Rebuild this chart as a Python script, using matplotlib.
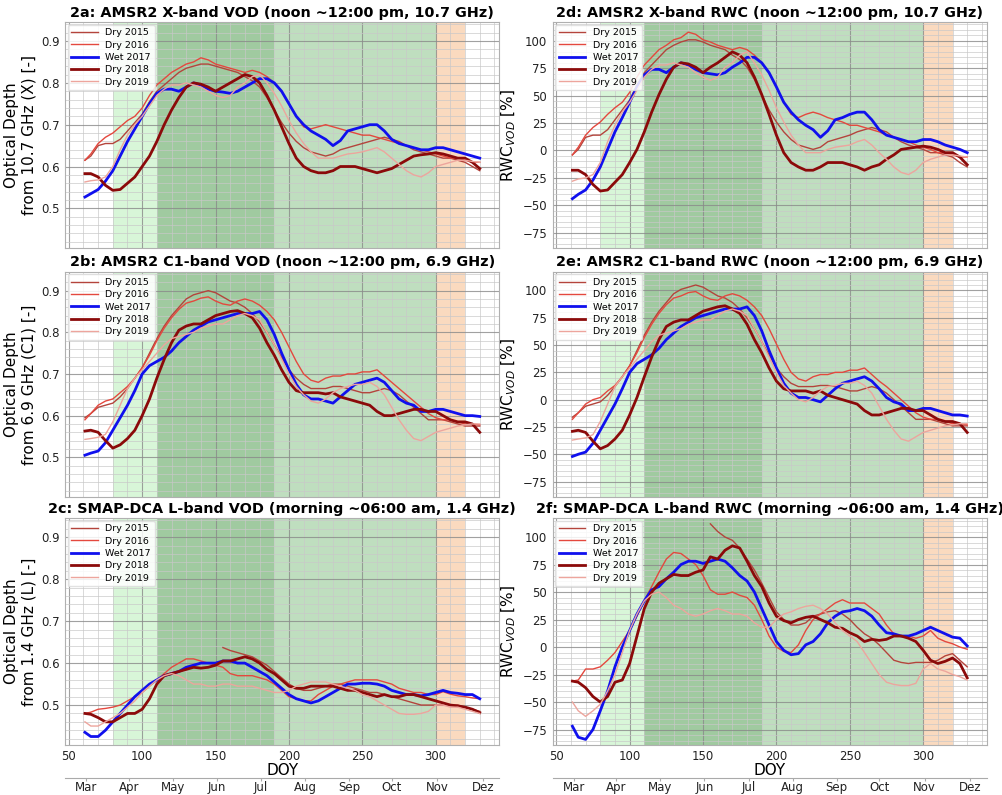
import numpy as np
import matplotlib
matplotlib.use("Agg")
import matplotlib.pyplot as plt
from matplotlib.ticker import MultipleLocator, AutoMinorLocator

nan = np.nan
doy = [61] + list(range(65, 331, 5))

years = ["Dry 2015", "Dry 2016", "Wet 2017", "Dry 2018", "Dry 2019"]
colors = ["#b4443c", "#e4483e", "#1010ee", "#8b0a0a", "#eda59d"]
widths = [1.0, 1.0, 2.0, 2.0, 1.0]

# ---- 2a: AMSR2 X-band VOD
vod_x_2015 = [.615,.625,.65,.655,.655,.665,.685,.705,.725, .755,.78,.795,.81,.825,.835,.84,.845,.845,.84,
              .835,.83,.825,.815,.805,.79,.765,.735,.705,.68, .66,.645,.635,.63,.625,.63,.64,.645,.65,.655,
              .66,.665,.67,.665,.66,.65,.64,.635,.63,.625, .62,.62,.615,.61,.60,.59]
vod_x_2016 = [.615,.63,.655,.67,.68,.695,.71,.72,.74, .77,.795,.81,.825,.835,.845,.85,.86,.855,.845,
              .84,.835,.83,.825,.83,.825,.815,.80,.78,.75, .72,.695,.69,.695,.70,.695,.69,.685,.68,.675,
              .675,.67,.665,.66,.655,.65,.645,.64,.635,.63, .625,.62,.62,.615,.61,.61]
vod_x_2017 = [.527,.535,.545,.565,.59,.625,.66,.69,.72, .75,.775,.785,.785,.78,.79,.80,.795,.785,.78,
              .778,.775,.78,.79,.80,.81,.81,.80,.78,.75, .72,.70,.685,.675,.665,.65,.662,.685,.69,.695,
              .70,.70,.685,.665,.655,.65,.645,.64,.64,.645, .645,.64,.635,.63,.625,.62]
vod_x_2018 = [.583,.583,.575,.555,.543,.545,.56,.575,.60, .625,.66,.70,.735,.765,.79,.80,.797,.79,.78,
              .79,.80,.81,.82,.815,.80,.77,.735,.695,.655, .62,.60,.59,.585,.585,.59,.60,.60,.60,.595,
              .59,.585,.59,.595,.605,.615,.625,.628,.63,.633, .63,.625,.62,.62,.61,.595]
vod_x_2019 = [.563,.566,.568,.575,.60,.64,.675,.70,.72, .745,.77,.785,.795,.795,.80,.795,.79,.78,.77,
              .765,.77,.79,.80,.815,.82,.80,.775,.745,.71, .68,.655,.635,.62,.62,.62,.625,.63,.632,.635,
              .64,.645,.635,.62,.605,.59,.58,.575,.585,.60, .605,.61,.615,.615,.612,.61]

# ---- 2b: AMSR2 C1-band VOD
vod_c_2015 = [.595,.605,.62,.625,.63,.645,.665,.69,.715, .75,.785,.815,.84,.86,.88,.89,.895,.90,.895,
              .885,.875,.87,.86,.845,.825,.80,.77,.74,.71, .69,.675,.665,.665,.665,.67,.67,.665,.66,.655,
              .655,.66,.665,.66,.65,.635,.62,.605,.59,.59, .59,.585,.58,.575,.575,.575]
vod_c_2016 = [.59,.605,.625,.635,.64,.655,.67,.69,.715, .745,.78,.81,.835,.855,.87,.875,.882,.885,.875,
              .868,.865,.875,.88,.875,.865,.85,.83,.80,.765, .73,.70,.685,.68,.69,.695,.695,.70,.70,.705,
              .705,.71,.695,.68,.665,.65,.635,.62,.605,.595, .59,.59,.585,.58,.58,.578]
vod_c_2017 = [.505,.51,.515,.535,.565,.595,.625,.66,.70, .72,.73,.74,.755,.775,.79,.805,.815,.825,.83,
              .835,.84,.845,.845,.845,.85,.83,.795,.75,.71, .675,.65,.64,.64,.635,.63,.645,.66,.675,.68,
              .685,.69,.68,.66,.64,.63,.625,.61,.61,.615, .615,.61,.605,.60,.60,.598]
vod_c_2018 = [.563,.565,.56,.54,.522,.53,.545,.565,.60, .64,.69,.735,.775,.805,.815,.82,.82,.83,.84,
              .845,.85,.852,.845,.835,.81,.775,.745,.71,.68, .66,.655,.655,.655,.652,.655,.645,.64,.635,.63,
              .625,.61,.60,.60,.605,.61,.615,.615,.61,.61, .60,.59,.585,.585,.58,.56]
vod_c_2019 = [.543,.545,.548,.555,.585,.625,.665,.69,.71, .73,.75,.77,.785,.79,.795,.80,.81,.815,.82,
              .82,.83,.84,.845,.84,.83,.80,.77,.735,.70, .67,.65,.635,.63,.64,.655,.665,.67,.675,.675,
              .68,.67,.65,.62,.59,.565,.545,.54,.55,.56, .565,.57,.575,.578,.58,.58]

# ---- 2c: SMAP-DCA L-band VOD
vod_l_2015 = [nan]*19 + [.637,.63,.625,.62,.615,.605,.595,.58,.565,.55, .54,.535,.535,.54,.545,.55,.55,.545,.54,.535,
              .53,.53,.525,.52,.515,.51,.505,.50,.50,.50, .50,.50,.50,.495,.49,.485]
vod_l_2016 = [.48,.483,.49,.492,.495,.50,.51,.52,.53, .545,.56,.575,.59,.60,.61,.61,.605,.60,.595,
              .59,.575,.57,.57,.57,.565,.56,.55,.535,.52, .515,.51,.51,.525,.535,.545,.55,.555,.56,.56,
              .56,.56,.555,.55,.54,.535,.53,.53,.525,.525, .532,.526,.522,.52,.517,.515]
vod_l_2017 = [.435,.425,.425,.44,.46,.48,.50,.52,.535, .55,.56,.57,.575,.58,.59,.595,.60,.60,.60,
              .605,.605,.60,.60,.59,.58,.57,.555,.54,.525, .515,.51,.505,.51,.52,.53,.54,.55,.55,.552,
              .552,.55,.545,.535,.53,.525,.525,.522,.525,.53, .535,.53,.528,.525,.525,.515]
vod_l_2018 = [.48,.478,.47,.46,.46,.47,.48,.48,.49, .515,.55,.57,.575,.58,.585,.59,.588,.59,.595,
              .605,.605,.61,.615,.61,.60,.585,.575,.56,.545, .54,.54,.545,.545,.545,.545,.54,.535,.535,.53,
              .525,.52,.525,.52,.52,.525,.525,.52,.515,.51, .505,.50,.498,.495,.49,.482]
vod_l_2019 = [.46,.45,.45,.46,.47,.48,.495,.51,.53, .545,.56,.57,.575,.57,.56,.55,.55,.545,.545,
              .55,.55,.545,.545,.545,.54,.535,.53,.53,.535, .545,.55,.555,.555,.555,.55,.545,.54,.535,.525,
              .52,.51,.50,.49,.48,.478,.478,.48,.485,.50, .50,.495,.495,.49,.485,.48]

# ---- 2d: AMSR2 X-band RWC
rwc_x_2015 = [-4,1,12,14,14,19,28,37,46, 60,71,78,85,92,96,99,101,101,99, 96,94,92,87,83,76,65,51,37,26,
              17,10,5,3,1,3,8,10,12,14, 17,19,21,19,17,12,8,5,3,1, -2,-2,-4,-6,-11,-15]
rwc_x_2016 = [-4,3,14,21,26,33,39,44,53, 67,78,85,92,96,101,103,108,106,101, 99,96,94,92,94,92,87,80,71,58,
              44,33,30,33,35,33,30,28,26,23, 23,21,19,17,14,12,10,8,5,3, 1,-2,-2,-4,-6,-6]
rwc_x_2017 = [-44,-40,-36,-27,-15,1,17,30,44, 58,69,74,74,71,76,80,78,74,71, 70,69,71,76,80,85,85,80,71,58,
              44,35,28,23,19,12,18,28,30,33, 35,35,28,19,14,12,10,8,8,10, 10,8,5,3,1,-2]
rwc_x_2018 = [-18,-18,-22,-31,-37,-36,-29,-22,-11, 1,17,35,51,65,76,80,79,76,71, 76,80,85,90,87,80,67,51,33,14,
              -2,-11,-15,-18,-18,-15,-11,-11,-11,-13, -15,-18,-15,-13,-8,-4,1,2,3,4, 3,1,-2,-2,-6,-13]
rwc_x_2019 = [-28,-26,-25,-22,-11,8,23,35,44, 55,67,74,78,78,80,78,76,71,67, 64,67,76,80,87,90,80,69,55,39,
              26,14,5,-2,-2,-2,1,3,4,5, 8,10,5,-2,-8,-15,-20,-22,-18,-11, -8,-6,-4,-4,-5,-6]

# ---- 2e: AMSR2 C1-band RWC
rwc_c_2015 = [-16,-12,-6,-4,-2,4,12,21,31, 45,59,71,81,89,97,101,103,105,103, 99,95,93,89,83,75,65,53,41,29,
              21,15,12,12,12,13,13,12,10,8, 8,10,12,10,6,0,-6,-12,-18,-18, -18,-20,-22,-24,-24,-24]
rwc_c_2016 = [-18,-12,-4,0,2,8,13,21,31, 43,57,69,79,87,93,95,98,99,95, 92,91,95,97,95,91,85,77,65,51,
              37,25,19,17,21,23,23,25,25,27, 27,29,23,17,12,6,0,-6,-12,-16, -18,-18,-20,-22,-22,-23]
rwc_c_2017 = [-52,-50,-48,-40,-28,-16,-4,10,25, 33,37,41,47,55,61,67,71,75,77, 79,81,83,83,83,85,77,63,45,29,
              15,6,2,2,0,-2,4,10,15,17, 19,21,17,10,2,-2,-4,-10,-10,-8, -8,-10,-12,-14,-14,-15]
rwc_c_2018 = [-29,-28,-30,-38,-45,-42,-36,-28,-14, 2,21,39,55,67,71,73,73,77,81, 83,85,86,83,79,69,55,43,29,17,
              10,8,8,8,6,8,4,2,0,-2, -4,-10,-14,-14,-12,-10,-8,-8,-10,-10, -14,-18,-20,-20,-22,-30]
rwc_c_2019 = [-37,-36,-35,-32,-20,-4,12,21,29, 37,45,53,59,61,63,65,69,71,73, 73,77,81,83,81,77,65,53,39,25,
              13,6,0,-2,2,8,12,13,15,15, 17,13,6,-6,-18,-28,-36,-38,-34,-30, -28,-26,-24,-23,-22,-22]

# ---- 2f: SMAP-DCA L-band RWC
rwc_l_2015 = [nan]*19 + [112,105,100,97,90,80,70,58,45,32, 25,20,20,22,28,30,32,33,30,25,
              18,12,8,2,-5,-12,-14,-15,-14,-14, -14,-12,-8,-6,-12,-18]
rwc_l_2016 = [-31,-30,-20,-20,-18,-12,-5,5,15, 28,42,55,68,80,86,85,80,75,65, 52,48,48,50,47,45,38,25,10,0,
              -4,-5,2,15,25,30,35,40,43,40, 40,40,35,30,20,12,10,10,8,10, 15,8,5,3,0,-2]
rwc_l_2017 = [-72,-82,-84,-75,-58,-40,-18,0,15, 30,42,52,55,62,68,75,78,78,76, 78,80,78,72,65,60,50,35,20,5,
              -3,-7,-6,2,5,12,22,28,32,33, 35,33,28,20,13,12,10,10,12,15, 18,15,12,9,8,1]
rwc_l_2018 = [-31,-32,-37,-45,-50,-45,-32,-30,-15, 10,35,50,58,62,66,65,65,68,70, 82,80,88,92,90,78,65,55,40,28,
              24,22,25,27,28,25,22,18,17,13, 10,5,7,6,7,10,10,8,5,-3, -12,-15,-13,-10,-15,-28]
rwc_l_2019 = [-50,-58,-63,-58,-52,-40,-25,-5,15, 30,42,48,50,45,38,35,30,28,30, 33,35,33,30,30,28,22,18,18,25,
              30,32,35,37,38,35,30,22,15,10, 5,-5,-15,-25,-32,-34,-35,-35,-33,-20, -15,-20,-22,-25,-27,-30]

titles = ["2a: AMSR2 X-band VOD (noon ~12:00 pm, 10.7 GHz)",
          "2b: AMSR2 C1-band VOD (noon ~12:00 pm, 6.9 GHz)",
          "2c: SMAP-DCA L-band VOD (morning ~06:00 am, 1.4 GHz)",
          "2d: AMSR2 X-band RWC (noon ~12:00 pm, 10.7 GHz)",
          "2e: AMSR2 C1-band RWC (noon ~12:00 pm, 6.9 GHz)",
          "2f: SMAP-DCA L-band RWC (morning ~06:00 am, 1.4 GHz)"]
ylabels_vod = ["Optical Depth\nfrom 10.7 GHz (X) [-]",
               "Optical Depth\nfrom 6.9 GHz (C1) [-]",
               "Optical Depth\nfrom 1.4 GHz (L) [-]"]
ylabel_rwc = "RWC$_{VOD}$ [%]"

panels = [
    [vod_x_2015, vod_x_2016, vod_x_2017, vod_x_2018, vod_x_2019],
    [vod_c_2015, vod_c_2016, vod_c_2017, vod_c_2018, vod_c_2019],
    [vod_l_2015, vod_l_2016, vod_l_2017, vod_l_2018, vod_l_2019],
    [rwc_x_2015, rwc_x_2016, rwc_x_2017, rwc_x_2018, rwc_x_2019],
    [rwc_c_2015, rwc_c_2016, rwc_c_2017, rwc_c_2018, rwc_c_2019],
    [rwc_l_2015, rwc_l_2016, rwc_l_2017, rwc_l_2018, rwc_l_2019],
]

# season shading (start, end, color, alpha)
spans = [(80, 110, "#7ee27e", 0.30),
         (110, 190, "#2e8b2e", 0.45),
         (190, 300, "#3a9a3a", 0.32),
         (300, 320, "#f4a460", 0.40)]

months = ["Mar", "Apr", "May", "Jun", "Jul", "Aug", "Sep", "Oct", "Nov", "Dez"]
month_pos = [62, 91, 121, 151, 181, 211, 241, 270, 301, 332]

fig = plt.figure(figsize=(10.03, 7.95), dpi=100)

lefts = [0.065, 0.551]
width = 0.433
rows = [(0.688, 0.284), (0.375, 0.283), (0.063, 0.285)]

for i in range(6):
    col = i // 3
    row = i % 3
    b, h = rows[row]
    ax = fig.add_axes([lefts[col], b, width, h])
    for s, e, c, a in spans:
        ax.axvspan(s, e, color=c, alpha=a, lw=0, zorder=0.5)
    for y, lab, c, w in zip(panels[i], years, colors, widths):
        ax.plot(doy, y, color=c, lw=w, label=lab, zorder=3)
    ax.set_xlim(47.55, 343.45)
    if col == 0:
        ax.set_ylim(0.405, 0.945)
        ax.yaxis.set_major_locator(MultipleLocator(0.1))
        ax.set_ylabel(ylabels_vod[row], fontsize=11, labelpad=3)
    else:
        ax.set_ylim(-89, 117)
        ax.yaxis.set_major_locator(MultipleLocator(25))
        ax.set_ylabel(ylabel_rwc, fontsize=11, labelpad=3)
    ax.xaxis.set_major_locator(MultipleLocator(50))
    ax.xaxis.set_minor_locator(AutoMinorLocator(5))
    ax.yaxis.set_minor_locator(AutoMinorLocator(5))
    ax.grid(which="major", color="#8a8a8a", lw=0.8, alpha=0.8, zorder=1)
    ax.grid(which="minor", color="#c8c8c8", lw=0.6, alpha=0.8, zorder=1)
    ax.tick_params(which="both", length=0, labelsize=8.5, colors="#222222", pad=4)
    for sp in ax.spines.values():
        sp.set_color("#b0b0b0")
        sp.set_linewidth(0.8)
    ax.set_title(titles[i], fontsize=10.4, fontweight="bold", pad=4)
    ax.legend(loc="upper left", fontsize=6.8, frameon=True, framealpha=0.85,
              edgecolor="#dddddd", handlelength=2.8, labelspacing=0.35,
              borderpad=0.4, borderaxespad=0.25)
    if row < 2:
        ax.tick_params(axis="x", labelbottom=False)
    else:
        ax.set_xlabel("DOY", fontsize=11, labelpad=0)
        sec = ax.twiny()
        sec.set_xlim(ax.get_xlim())
        sec.xaxis.set_ticks_position("bottom")
        sec.xaxis.set_label_position("bottom")
        sec.spines["bottom"].set_position(("outward", 23.5))
        for s in ["top", "left", "right"]:
            sec.spines[s].set_visible(False)
        sec.spines["bottom"].set_color("#aaaaaa")
        sec.set_xticks(month_pos)
        sec.set_xticklabels(months)
        sec.tick_params(axis="x", length=2, color="#aaaaaa", labelsize=8.5,
                        labelcolor="#222222", pad=0.5)

fig.savefig("out.png", dpi=100)
